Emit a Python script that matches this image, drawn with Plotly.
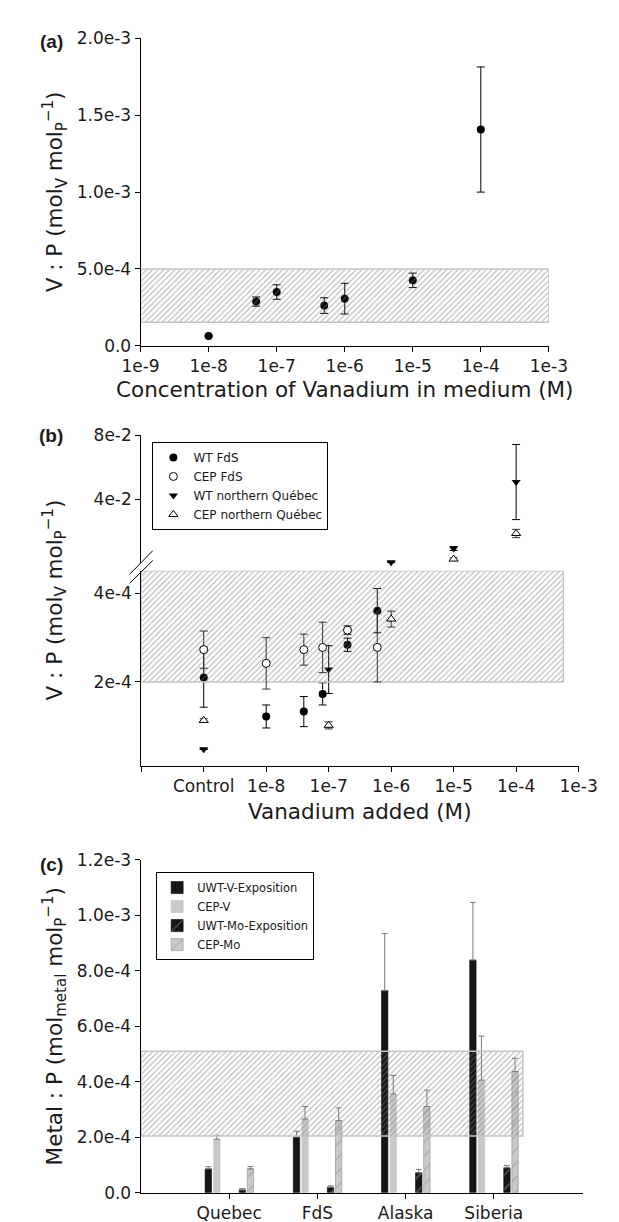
import plotly.graph_objects as go

W, H = 619, 1222
FONT = "DejaVu Sans"
LFONT = "Liberation Sans"


def px(x):
    return x / W


def py(y):
    return 1 - y / H


# ---------------- Panel (a) data ----------------
a_conc = [1e-8, 5e-8, 1e-7, 5e-7, 1e-6, 1e-5, 1e-4]
a_ratio = [6.4e-5, 2.88e-4, 3.50e-4, 2.62e-4, 3.07e-4, 4.26e-4, 1.407e-3]
a_err = [0.0, 3.0e-5, 4.7e-5, 5.1e-5, 1.0e-4, 4.7e-5, 4.07e-4]
a_band_x = [1e-9, 1e-3]
a_band_y = [1.53e-4, 5.0e-4]
a_xticks = [1e-9, 1e-8, 1e-7, 1e-6, 1e-5, 1e-4, 1e-3]
a_xticklabels = ["1e-9", "1e-8", "1e-7", "1e-6", "1e-5", "1e-4", "1e-3"]
a_yticks = [0, 5e-4, 1e-3, 1.5e-3, 2e-3]
a_yticklabels = ["0.0", "5.0e-4", "1.0e-3", "1.5e-3", "2.0e-3"]

# ---------------- Panel (b) data ----------------
b_x_fds = [1e-9, 1e-8, 4e-8, 8e-8, 2e-7, 6e-7]
b_wt_fds = [2.10e-4, 1.22e-4, 1.33e-4, 1.73e-4, 2.84e-4, 3.61e-4]
b_wt_fds_err = [6.7e-5, 2.6e-5, 3.4e-5, 2.5e-5, 1.5e-5, 5.0e-5]
b_cep_fds = [2.73e-4, 2.42e-4, 2.73e-4, 2.78e-4, 3.17e-4, 2.78e-4]
b_cep_fds_err = [4.2e-5, 5.8e-5, 3.5e-5, 5.7e-5, 1.0e-5, 7.8e-5]
b_x_q = [1e-9, 1e-7, 1e-6, 1e-5, 1e-4]
b_wt_q = [4.8e-5, 2.28e-4, 6.0e-4, 9.2e-3, 5.08e-2]
b_wt_q_err = [0.0, 5.4e-5, 0.0, 1.2e-3, 2.35e-2]
b_cep_q = [1.13e-4, 1.02e-4, 3.42e-4, 2.6e-3, 1.86e-2]
b_cep_q_err = [4e-6, 8e-6, 1.8e-5, 8e-4, 2.6e-3]
b_band_x = [1e-10, 5.7e-4]
b_band_y = [2.0e-4, 4.511e-4]
b_xticks = [1e-10, 1e-9, 1e-8, 1e-7, 1e-6, 1e-5, 1e-4, 1e-3]
b_xticklabels = ["", "Control", "1e-8", "1e-7", "1e-6", "1e-5", "1e-4", "1e-3"]
b_low_range = [1.11e-5, 4.511e-4]
b_high_range = [0.0, 0.08]
b_low_ticks = [2e-4, 4e-4]
b_low_ticklabels = ["2e-4", "4e-4"]
b_high_ticks = [0.04, 0.08]
b_high_ticklabels = ["4e-2", "8e-2"]

# ---------------- Panel (c) data ----------------
c_regions = ["Quebec", "FdS", "Alaska", "Siberia"]
c_uwt_v = [8.6e-5, 2.01e-4, 7.29e-4, 8.39e-4]
c_uwt_v_err = [8e-6, 2.1e-5, 2.06e-4, 2.08e-4]
c_cep_v = [1.93e-4, 2.66e-4, 3.56e-4, 4.06e-4]
c_cep_v_err = [1.4e-5, 4.5e-5, 6.7e-5, 1.59e-4]
c_uwt_mo = [1.0e-5, 2.0e-5, 7.2e-5, 9.0e-5]
c_uwt_mo_err = [5e-6, 5e-6, 1.2e-5, 8e-6]
c_cep_mo = [8.6e-5, 2.6e-4, 3.11e-4, 4.37e-4]
c_cep_mo_err = [9e-6, 4.6e-5, 5.9e-5, 4.8e-5]
c_band_x = [0.0, 4.33]
c_band_y = [2.05e-4, 5.1e-4]
c_yticks = [0, 2e-4, 4e-4, 6e-4, 8e-4, 1e-3, 1.2e-3]
c_yticklabels = ["0.0", "2.0e-4", "4.0e-4", "6.0e-4", "8.0e-4", "1.0e-3", "1.2e-3"]

c_pos = list(range(1, len(c_regions) + 1))

fig = go.Figure()


def band(xr, yr, xa, ya):
    x0, x1 = xr
    y0, y1 = yr
    return go.Scatter(
        x=[x0, x1, x1, x0, x0], y=[y0, y0, y1, y1, y0],
        mode="lines", fill="toself", fillcolor="rgba(0,0,0,0)",
        fillpattern=dict(shape="/", fgcolor="#7c7c7c", bgcolor="rgba(0,0,0,0)",
                         size=4, solidity=0.3, fillmode="overlay"),
        line=dict(color="#c4c4c4", width=1.5),
        xaxis=xa, yaxis=ya, showlegend=False, hoverinfo="skip")


def ebar(arr, color="black"):
    return dict(type="data", array=arr, color=color, thickness=1, width=4)


# ---------- (a) ----------
fig.add_trace(go.Scatter(
    x=a_conc, y=a_ratio, mode="markers",
    marker=dict(symbol="circle", size=8, color="black"),
    error_y=ebar(a_err), xaxis="x", yaxis="y", showlegend=False, cliponaxis=False))
fig.add_trace(band(a_band_x, a_band_y, "x", "y"))

# ---------- (b) ----------
BREAK = b_low_range[1]


def split(xs, ys, es, upper):
    pts = [(x, y, e) for x, y, e in zip(xs, ys, es) if (y > BREAK) == upper]
    return [p[0] for p in pts], [p[1] for p in pts], [p[2] for p in pts]


series_b = [
    ("WT FdS", b_x_fds, b_wt_fds, b_wt_fds_err,
     dict(symbol="circle", size=8, color="black"), 1, "black"),
    ("CEP FdS", b_x_fds, b_cep_fds, b_cep_fds_err,
     dict(symbol="circle", size=8, color="white", line=dict(color="black", width=1)), 2, "#333333"),
    ("WT northern Québec", b_x_q, b_wt_q, b_wt_q_err,
     dict(symbol="triangle-down", size=8, color="black"), 3, "black"),
    ("CEP northern Québec", b_x_q, b_cep_q, b_cep_q_err,
     dict(symbol="triangle-up", size=8, color="white", line=dict(color="black", width=1)), 4, "#333333"),
]

filled = [s for s in series_b if s[4]["color"] == "black"]
opened = [s for s in series_b if s[4]["color"] != "black"]


def add_b(s, upper, legend_on):
    name, xs, ys, es, mk, rank, ecol = s
    x, y, e = split(xs, ys, es, upper)
    if not x:
        return
    fig.add_trace(go.Scatter(
        x=x, y=y, mode="markers", name=name, marker=mk,
        error_y=ebar(e, ecol), xaxis="x2", yaxis="y3" if upper else "y2",
        showlegend=legend_on, legendrank=rank, legend="legend", cliponaxis=False))


for s in filled:
    add_b(s, False, True)
fig.add_trace(band(b_band_x, b_band_y, "x2", "y2"))
for s in opened:
    add_b(s, False, True)
for s in series_b:
    add_b(s, True, False)

# ---------- (c) ----------
BW = 0.072
bar_specs = [
    ("UWT-V-Exposition", c_uwt_v, c_uwt_v_err, -0.273,
     dict(color="#161616", line=dict(color="#000000", width=0.6))),
    ("CEP-V", c_cep_v, c_cep_v_err, -0.176,
     dict(color="#c9c9c9", line=dict(color="#c0c0c0", width=0.6))),
    ("UWT-Mo-Exposition", c_uwt_mo, c_uwt_mo_err, 0.113,
     dict(color="#161616", line=dict(color="#000000", width=0.6),
          pattern=dict(shape="/", fgcolor="#b0b0b0", size=10, solidity=0.12, fillmode="overlay"))),
    ("CEP-Mo", c_cep_mo, c_cep_mo_err, 0.205,
     dict(color="#c9c9c9", line=dict(color="#8f8f8f", width=0.6),
          pattern=dict(shape="/", fgcolor="#8a8a8a", size=10, solidity=0.12, fillmode="overlay"))),
]
for i, (name, vals, errs, off, mk) in enumerate(bar_specs):
    fig.add_trace(go.Bar(
        x=c_pos, y=vals, name=name, width=BW, offset=off, marker=mk,
        error_y=dict(type="data", symmetric=False, array=errs, arrayminus=[0] * len(errs),
                     color="#7a7a7a", thickness=1, width=3),
        xaxis="x3", yaxis="y4", legend="legend2", legendrank=i + 1))
fig.add_trace(band(c_band_x, c_band_y, "x3", "y4"))

# ---------- axes ----------
common = dict(showline=True, linecolor="black", linewidth=1, ticks="outside", ticklen=5,
              tickcolor="black", tickwidth=1, showgrid=False, zeroline=False,
              tickfont=dict(family=FONT, size=17, color="#1a1a1a"))

fig.update_layout(
    xaxis=dict(common, type="log", range=[-9, -3], domain=[px(121), px(556)], anchor="y",
               tickmode="array", tickvals=a_xticks, ticktext=a_xticklabels),
    yaxis=dict(common, range=[0, 2e-3], domain=[py(333.3), py(20.7)], anchor="x",
               tickmode="array", tickvals=a_yticks, ticktext=a_yticklabels),
    xaxis2=dict(common, type="log", range=[-10, -3], domain=[px(121.7), px(587.7)], anchor="y2",
                tickmode="array", tickvals=b_xticks, ticktext=b_xticklabels),
    yaxis2=dict(common, range=b_low_range, domain=[py(760), py(562)], anchor="x2",
                tickmode="array", tickvals=b_low_ticks, ticktext=b_low_ticklabels),
    yaxis3=dict(common, range=b_high_range, domain=[py(554.3), py(424.3)], anchor="x2",
                tickmode="array", tickvals=b_high_ticks, ticktext=b_high_ticklabels),
    xaxis3=dict(common, range=[-0.005, 5.015], domain=[px(121), px(592.7)], anchor="y4",
                tickmode="array", tickvals=c_pos, ticktext=c_regions),
    yaxis4=dict(common, range=[0, 1.2e-3], domain=[py(1194.3), py(856)], anchor="x3",
                tickmode="array", tickvals=c_yticks, ticktext=c_yticklabels),
)

fig.update_layout(
    width=W, height=H, margin=dict(l=0, r=0, t=0, b=0),
    paper_bgcolor="white", plot_bgcolor="white", barmode="overlay",
    font=dict(family=FONT, color="#1a1a1a"),
    legend=dict(x=px(133.6), y=py(431), xanchor="left", yanchor="top",
                bgcolor="white", bordercolor="black", borderwidth=1,
                font=dict(family=FONT, size=12, color="#1a1a1a"), tracegroupgap=0,
                traceorder="normal"),
    legend2=dict(x=px(137.6), y=py(868.3), xanchor="left", yanchor="top",
                 bgcolor="white", bordercolor="black", borderwidth=1,
                 font=dict(family=FONT, size=11.5, color="#1a1a1a"), tracegroupgap=0,
                 traceorder="normal"),
)

# ---------- text annotations ----------
ann = []
title_font = dict(family=FONT, size=21.5, color="#1a1a1a")
for lab, y in [("(a)", 24), ("(b)", 424), ("(c)", 861)]:
    ann.append(dict(text="<b>%s</b>" % lab, x=px(26), y=py(y), xref="paper", yref="paper",
                    showarrow=False, xanchor="center", yanchor="middle",
                    font=dict(family=LFONT, size=19, color="#1a1a1a")))
ann.append(dict(text="Concentration of Vanadium in medium (M)", x=px(338.5), y=py(378),
                xref="paper", yref="paper", showarrow=False, xanchor="center",
                yanchor="middle", font=title_font))
ann.append(dict(text="Vanadium added (M)", x=px(355), y=py(807),
                xref="paper", yref="paper", showarrow=False, xanchor="center",
                yanchor="middle", font=title_font))
vp = "V : P (mol<sub>V</sub> mol<sub>P</sub><sup>\u22121</sup>)"
for yc in [177, 592]:
    ann.append(dict(text=vp, x=px(30), y=py(yc), xref="paper", yref="paper",
                    showarrow=False, textangle=-90, xanchor="center", yanchor="middle",
                    font=title_font))
ann.append(dict(text="Metal : P (mol<sub>metal</sub> mol<sub>P</sub><sup>\u22121</sup>)",
                x=px(30), y=py(1025), xref="paper", yref="paper", showarrow=False,
                textangle=-90, xanchor="center", yanchor="middle", font=title_font))
fig.update_layout(annotations=ann)

# ---------- axis break marks (panel b) ----------
shapes = []
for (x0, y0, x1, y1) in [(109.5, 565.5, 134, 541.5), (109.5, 574.5, 134, 551.5)]:
    shapes.append(dict(type="line", xref="paper", yref="paper",
                       x0=px(x0), y0=py(y0), x1=px(x1), y1=py(y1),
                       line=dict(color="black", width=1)))
fig.update_layout(shapes=shapes)

fig.write_html("out.html")
